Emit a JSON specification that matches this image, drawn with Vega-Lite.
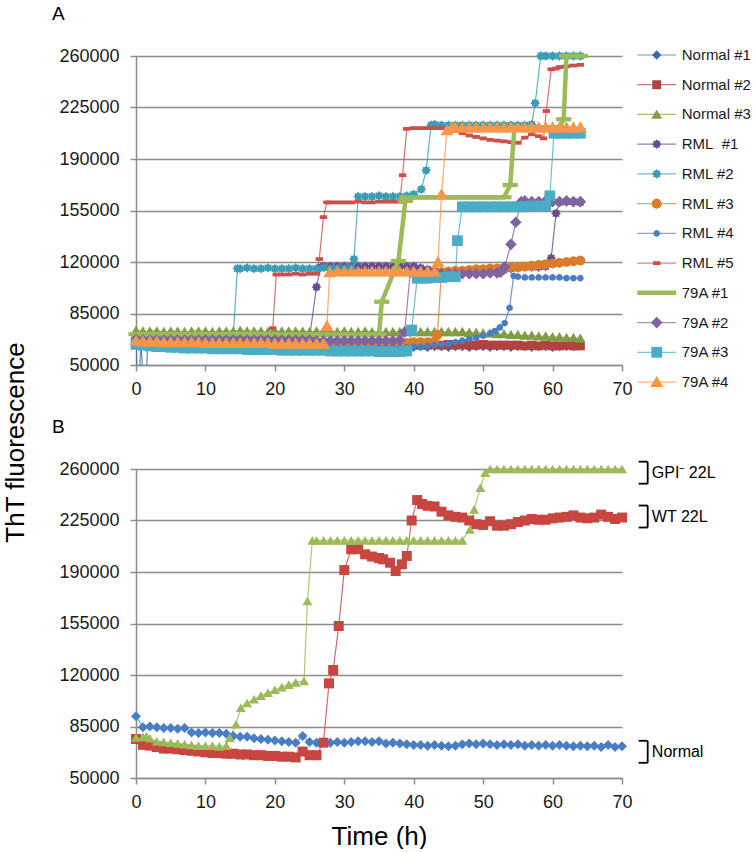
{
"$schema":"https://vega.github.io/schema/vega-lite/v6.json",
"background":"white",
"padding":{"left":2,"top":5,"right":0,"bottom":0},
"bounds":"flush",
"spacing":104,
"config":{"font":"Liberation Sans","view":{"stroke":null},
 "axis":{"domainColor":"#8c8c8c","domainWidth":1.5,"tickColor":"#8c8c8c","tickWidth":1.5,"gridColor":"#8c8c8c","gridWidth":1.5,"labelFont":"Liberation Sans","labelFontSize":18,"labelColor":"#1a1a1a","titleFont":"Liberation Sans","titleFontWeight":"normal","titleColor":"#000000"}},
"resolve":{"scale":{"x":"independent","y":"independent","color":"independent","shape":"independent","size":"independent"}},
"datasets":{
"leg":[{"s":"n1","label":"Normal #1"},{"s":"n2","label":"Normal #2"},{"s":"n3","label":"Normal #3"},{"s":"r1","label":"RML\u00a0 #1"},{"s":"r2","label":"RML #2"},{"s":"r3","label":"RML #3"},{"s":"r4","label":"RML #4"},{"s":"r5","label":"RML #5"},{"s":"x1","label":"79A #1"},{"s":"x2","label":"79A #2"},{"s":"x3","label":"79A #3"},{"s":"x4","label":"79A #4"}],
"ann":[{"label":"GPI\u207b 22L","v":257500},{"label":"WT 22L","v":227700},{"label":"Normal","v":67800}],
"a":[
{"s":"n1","t":0,"v":66500},{"s":"n1","t":0.3,"v":20000},{"s":"n1","t":0.7,"v":66000},{"s":"n1","t":1.3,"v":20000},{"s":"n1","t":1.7,"v":65500},{"s":"n1","t":2,"v":65500},{"s":"n1","t":3,"v":65000},{"s":"n1","t":4,"v":65000},{"s":"n1","t":5,"v":64500},{"s":"n1","t":6,"v":65000},{"s":"n1","t":7,"v":64500},{"s":"n1","t":8,"v":64500},{"s":"n1","t":9,"v":64500},{"s":"n1","t":10,"v":64000},{"s":"n1","t":11,"v":64500},{"s":"n1","t":12,"v":64000},{"s":"n1","t":13,"v":64000},{"s":"n1","t":14,"v":64000},{"s":"n1","t":15,"v":63500},{"s":"n1","t":16,"v":64000},{"s":"n1","t":17,"v":63500},{"s":"n1","t":18,"v":63500},{"s":"n1","t":19,"v":63500},{"s":"n1","t":20,"v":63500},{"s":"n1","t":21,"v":63000},{"s":"n1","t":22,"v":63500},{"s":"n1","t":23,"v":63000},{"s":"n1","t":24,"v":63000},{"s":"n1","t":25,"v":63000},{"s":"n1","t":26,"v":63000},{"s":"n1","t":27,"v":63000},{"s":"n1","t":28,"v":62500},{"s":"n1","t":29,"v":63000},{"s":"n1","t":30,"v":62500},{"s":"n1","t":31,"v":62500},{"s":"n1","t":32,"v":62500},{"s":"n1","t":33,"v":62500},{"s":"n1","t":34,"v":62500},{"s":"n1","t":35,"v":62500},{"s":"n1","t":36,"v":62000},{"s":"n1","t":37,"v":62500},{"s":"n1","t":38,"v":62000},{"s":"n1","t":39,"v":62500},{"s":"n1","t":40,"v":62000},{"s":"n1","t":41,"v":62500},{"s":"n1","t":42,"v":62000},{"s":"n1","t":43,"v":62500},{"s":"n1","t":44,"v":62500},{"s":"n1","t":45,"v":62000},{"s":"n1","t":46,"v":62500},{"s":"n1","t":47,"v":62500},{"s":"n1","t":48,"v":62000},{"s":"n1","t":49,"v":62500},{"s":"n1","t":50,"v":62500},{"s":"n1","t":51,"v":62000},{"s":"n1","t":52,"v":62500},{"s":"n1","t":53,"v":62500},{"s":"n1","t":54,"v":62000},{"s":"n1","t":55,"v":62500},{"s":"n1","t":56,"v":62500},{"s":"n1","t":57,"v":62000},{"s":"n1","t":58,"v":62500},{"s":"n1","t":59,"v":62500},{"s":"n1","t":60,"v":62000},{"s":"n1","t":61,"v":62500},{"s":"n1","t":62,"v":62500},{"s":"n1","t":63,"v":62500},{"s":"n1","t":64,"v":63000},
{"s":"n2","t":0,"v":66000},{"s":"n2","t":1,"v":65500},{"s":"n2","t":2,"v":65500},{"s":"n2","t":3,"v":65500},{"s":"n2","t":4,"v":65000},{"s":"n2","t":5,"v":65500},{"s":"n2","t":6,"v":65000},{"s":"n2","t":7,"v":65000},{"s":"n2","t":8,"v":65000},{"s":"n2","t":9,"v":65000},{"s":"n2","t":10,"v":64500},{"s":"n2","t":11,"v":65000},{"s":"n2","t":12,"v":64500},{"s":"n2","t":13,"v":64500},{"s":"n2","t":14,"v":64500},{"s":"n2","t":15,"v":64500},{"s":"n2","t":16,"v":64500},{"s":"n2","t":17,"v":64000},{"s":"n2","t":18,"v":64500},{"s":"n2","t":19,"v":64000},{"s":"n2","t":20,"v":64000},{"s":"n2","t":21,"v":64000},{"s":"n2","t":22,"v":64000},{"s":"n2","t":23,"v":64000},{"s":"n2","t":24,"v":64000},{"s":"n2","t":25,"v":63500},{"s":"n2","t":26,"v":64000},{"s":"n2","t":27,"v":63500},{"s":"n2","t":28,"v":63500},{"s":"n2","t":29,"v":63500},{"s":"n2","t":30,"v":63500},{"s":"n2","t":31,"v":63500},{"s":"n2","t":32,"v":63500},{"s":"n2","t":33,"v":63500},{"s":"n2","t":34,"v":63500},{"s":"n2","t":35,"v":63500},{"s":"n2","t":36,"v":63500},{"s":"n2","t":37,"v":63000},{"s":"n2","t":38,"v":63500},{"s":"n2","t":39,"v":63000},{"s":"n2","t":40,"v":63500},{"s":"n2","t":41,"v":63500},{"s":"n2","t":42,"v":63500},{"s":"n2","t":43,"v":64000},{"s":"n2","t":44,"v":63500},{"s":"n2","t":45,"v":64000},{"s":"n2","t":46,"v":63500},{"s":"n2","t":47,"v":64000},{"s":"n2","t":48,"v":63500},{"s":"n2","t":49,"v":63500},{"s":"n2","t":50,"v":64000},{"s":"n2","t":51,"v":63500},{"s":"n2","t":52,"v":63500},{"s":"n2","t":53,"v":63500},{"s":"n2","t":54,"v":63500},{"s":"n2","t":55,"v":63500},{"s":"n2","t":56,"v":63000},{"s":"n2","t":57,"v":63500},{"s":"n2","t":58,"v":63000},{"s":"n2","t":59,"v":63500},{"s":"n2","t":60,"v":63000},{"s":"n2","t":61,"v":63000},{"s":"n2","t":62,"v":63500},{"s":"n2","t":63,"v":63000},{"s":"n2","t":64,"v":63000},
{"s":"n3","t":0,"v":73500},{"s":"n3","t":1,"v":73000},{"s":"n3","t":2,"v":73000},{"s":"n3","t":3,"v":73000},{"s":"n3","t":4,"v":72500},{"s":"n3","t":5,"v":73000},{"s":"n3","t":6,"v":73000},{"s":"n3","t":7,"v":72500},{"s":"n3","t":8,"v":73000},{"s":"n3","t":9,"v":73000},{"s":"n3","t":10,"v":73000},{"s":"n3","t":11,"v":72500},{"s":"n3","t":12,"v":73000},{"s":"n3","t":13,"v":73000},{"s":"n3","t":14,"v":73000},{"s":"n3","t":15,"v":73500},{"s":"n3","t":16,"v":73000},{"s":"n3","t":17,"v":73000},{"s":"n3","t":18,"v":73000},{"s":"n3","t":19,"v":72500},{"s":"n3","t":20,"v":73000},{"s":"n3","t":21,"v":73000},{"s":"n3","t":22,"v":73000},{"s":"n3","t":23,"v":73000},{"s":"n3","t":24,"v":73000},{"s":"n3","t":25,"v":72500},{"s":"n3","t":26,"v":73000},{"s":"n3","t":27,"v":73000},{"s":"n3","t":28,"v":73000},{"s":"n3","t":29,"v":72500},{"s":"n3","t":30,"v":73000},{"s":"n3","t":31,"v":72500},{"s":"n3","t":32,"v":72500},{"s":"n3","t":33,"v":73000},{"s":"n3","t":34,"v":72500},{"s":"n3","t":35,"v":72500},{"s":"n3","t":36,"v":72500},{"s":"n3","t":37,"v":72500},{"s":"n3","t":38,"v":72500},{"s":"n3","t":39,"v":72500},{"s":"n3","t":40,"v":72500},{"s":"n3","t":41,"v":72500},{"s":"n3","t":42,"v":72500},{"s":"n3","t":43,"v":72500},{"s":"n3","t":44,"v":72500},{"s":"n3","t":45,"v":72500},{"s":"n3","t":46,"v":72500},{"s":"n3","t":47,"v":72500},{"s":"n3","t":48,"v":72000},{"s":"n3","t":49,"v":72000},{"s":"n3","t":50,"v":71500},{"s":"n3","t":51,"v":71500},{"s":"n3","t":52,"v":71000},{"s":"n3","t":53,"v":71000},{"s":"n3","t":54,"v":70500},{"s":"n3","t":55,"v":70500},{"s":"n3","t":56,"v":70000},{"s":"n3","t":57,"v":70000},{"s":"n3","t":58,"v":69500},{"s":"n3","t":59,"v":69500},{"s":"n3","t":60,"v":69000},{"s":"n3","t":61,"v":69000},{"s":"n3","t":62,"v":68500},{"s":"n3","t":63,"v":68500},{"s":"n3","t":64,"v":68000},
{"s":"r1","t":0,"v":68500},{"s":"r1","t":1,"v":68500},{"s":"r1","t":2,"v":68500},{"s":"r1","t":3,"v":68000},{"s":"r1","t":4,"v":68500},{"s":"r1","t":5,"v":68000},{"s":"r1","t":6,"v":68500},{"s":"r1","t":7,"v":68000},{"s":"r1","t":8,"v":68500},{"s":"r1","t":9,"v":68500},{"s":"r1","t":10,"v":68500},{"s":"r1","t":11,"v":68500},{"s":"r1","t":12,"v":68500},{"s":"r1","t":13,"v":68500},{"s":"r1","t":14,"v":68500},{"s":"r1","t":15,"v":68500},{"s":"r1","t":16,"v":68500},{"s":"r1","t":17,"v":68500},{"s":"r1","t":18,"v":68500},{"s":"r1","t":19,"v":68500},{"s":"r1","t":20,"v":68500},{"s":"r1","t":21,"v":68500},{"s":"r1","t":22,"v":68500},{"s":"r1","t":23,"v":68500},{"s":"r1","t":24,"v":68500},{"s":"r1","t":25,"v":69000},{"s":"r1","t":26,"v":103000},{"s":"r1","t":26.6,"v":116500},{"s":"r1","t":27,"v":117000},{"s":"r1","t":28,"v":117000},{"s":"r1","t":29,"v":117000},{"s":"r1","t":30,"v":117000},{"s":"r1","t":31,"v":117000},{"s":"r1","t":32,"v":117000},{"s":"r1","t":33,"v":117000},{"s":"r1","t":34,"v":117000},{"s":"r1","t":35,"v":117000},{"s":"r1","t":36,"v":117000},{"s":"r1","t":37,"v":117000},{"s":"r1","t":38,"v":117000},{"s":"r1","t":39,"v":117000},{"s":"r1","t":40,"v":117000},{"s":"r1","t":41,"v":116000},{"s":"r1","t":42,"v":115000},{"s":"r1","t":43,"v":114000},{"s":"r1","t":44,"v":113500},{"s":"r1","t":45,"v":113500},{"s":"r1","t":46,"v":113500},{"s":"r1","t":47,"v":113500},{"s":"r1","t":48,"v":113500},{"s":"r1","t":49,"v":113500},{"s":"r1","t":50,"v":113500},{"s":"r1","t":51,"v":113500},{"s":"r1","t":52,"v":113500},{"s":"r1","t":53,"v":114500},{"s":"r1","t":54,"v":115500},{"s":"r1","t":55,"v":116000},{"s":"r1","t":56,"v":116500},{"s":"r1","t":57,"v":116500},{"s":"r1","t":58,"v":116500},{"s":"r1","t":59,"v":117000},{"s":"r1","t":59.8,"v":122700},{"s":"r1","t":60.5,"v":153000},{"s":"r1","t":61,"v":160500},{"s":"r1","t":62,"v":161000},{"s":"r1","t":63,"v":161000},{"s":"r1","t":64,"v":160500},
{"s":"r2","t":0,"v":69500},{"s":"r2","t":1,"v":69500},{"s":"r2","t":2,"v":69000},{"s":"r2","t":3,"v":69000},{"s":"r2","t":4,"v":69000},{"s":"r2","t":5,"v":69000},{"s":"r2","t":6,"v":69000},{"s":"r2","t":7,"v":69000},{"s":"r2","t":8,"v":69000},{"s":"r2","t":9,"v":69000},{"s":"r2","t":10,"v":69000},{"s":"r2","t":11,"v":69000},{"s":"r2","t":12,"v":69000},{"s":"r2","t":13,"v":69000},{"s":"r2","t":14,"v":69000},{"s":"r2","t":14.6,"v":115500},{"s":"r2","t":15,"v":115500},{"s":"r2","t":16,"v":116000},{"s":"r2","t":17,"v":115500},{"s":"r2","t":18,"v":115500},{"s":"r2","t":19,"v":116000},{"s":"r2","t":20,"v":115500},{"s":"r2","t":21,"v":115500},{"s":"r2","t":22,"v":115500},{"s":"r2","t":23,"v":116000},{"s":"r2","t":24,"v":115500},{"s":"r2","t":25,"v":115500},{"s":"r2","t":26,"v":115500},{"s":"r2","t":27,"v":116000},{"s":"r2","t":28,"v":115500},{"s":"r2","t":29,"v":115500},{"s":"r2","t":30,"v":115500},{"s":"r2","t":31,"v":116000},{"s":"r2","t":31.4,"v":122000},{"s":"r2","t":32,"v":164500},{"s":"r2","t":33,"v":164500},{"s":"r2","t":34,"v":164500},{"s":"r2","t":35,"v":165000},{"s":"r2","t":36,"v":164500},{"s":"r2","t":37,"v":164500},{"s":"r2","t":38,"v":164500},{"s":"r2","t":39,"v":165000},{"s":"r2","t":40,"v":166000},{"s":"r2","t":41.1,"v":169400},{"s":"r2","t":41.8,"v":182300},{"s":"r2","t":42.5,"v":213000},{"s":"r2","t":43,"v":213500},{"s":"r2","t":44,"v":213000},{"s":"r2","t":45,"v":213000},{"s":"r2","t":46,"v":213000},{"s":"r2","t":47,"v":213000},{"s":"r2","t":48,"v":213000},{"s":"r2","t":49,"v":213000},{"s":"r2","t":50,"v":213000},{"s":"r2","t":51,"v":213000},{"s":"r2","t":52,"v":213000},{"s":"r2","t":53,"v":213000},{"s":"r2","t":54,"v":213000},{"s":"r2","t":55,"v":213000},{"s":"r2","t":56,"v":213000},{"s":"r2","t":57,"v":213500},{"s":"r2","t":57.5,"v":228000},{"s":"r2","t":58.3,"v":260000},{"s":"r2","t":59,"v":260000},{"s":"r2","t":60,"v":260000},{"s":"r2","t":61,"v":260000},{"s":"r2","t":62,"v":260000},{"s":"r2","t":63,"v":260000},{"s":"r2","t":64,"v":260000},
{"s":"r3","t":0,"v":66000},{"s":"r3","t":1,"v":66000},{"s":"r3","t":2,"v":65500},{"s":"r3","t":3,"v":65500},{"s":"r3","t":4,"v":65500},{"s":"r3","t":5,"v":65500},{"s":"r3","t":6,"v":65500},{"s":"r3","t":7,"v":65500},{"s":"r3","t":8,"v":65000},{"s":"r3","t":9,"v":65500},{"s":"r3","t":10,"v":65500},{"s":"r3","t":11,"v":65000},{"s":"r3","t":12,"v":65500},{"s":"r3","t":13,"v":65000},{"s":"r3","t":14,"v":65500},{"s":"r3","t":15,"v":65000},{"s":"r3","t":16,"v":65500},{"s":"r3","t":17,"v":65000},{"s":"r3","t":18,"v":65000},{"s":"r3","t":19,"v":65500},{"s":"r3","t":20,"v":65000},{"s":"r3","t":21,"v":65000},{"s":"r3","t":22,"v":65000},{"s":"r3","t":23,"v":65500},{"s":"r3","t":24,"v":65000},{"s":"r3","t":25,"v":65000},{"s":"r3","t":26,"v":65000},{"s":"r3","t":27,"v":65000},{"s":"r3","t":28,"v":65000},{"s":"r3","t":29,"v":65000},{"s":"r3","t":30,"v":65000},{"s":"r3","t":31,"v":65000},{"s":"r3","t":32,"v":65000},{"s":"r3","t":33,"v":65000},{"s":"r3","t":34,"v":65000},{"s":"r3","t":35,"v":65000},{"s":"r3","t":36,"v":65000},{"s":"r3","t":37,"v":65000},{"s":"r3","t":38,"v":65000},{"s":"r3","t":39,"v":65000},{"s":"r3","t":40,"v":65500},{"s":"r3","t":41,"v":65500},{"s":"r3","t":42,"v":65500},{"s":"r3","t":43,"v":66000},{"s":"r3","t":43.4,"v":70400},{"s":"r3","t":44,"v":113000},{"s":"r3","t":45,"v":113500},{"s":"r3","t":46,"v":114000},{"s":"r3","t":47,"v":114000},{"s":"r3","t":48,"v":114500},{"s":"r3","t":49,"v":115000},{"s":"r3","t":50,"v":115000},{"s":"r3","t":51,"v":115500},{"s":"r3","t":52,"v":115500},{"s":"r3","t":53,"v":116000},{"s":"r3","t":54,"v":116500},{"s":"r3","t":55,"v":116500},{"s":"r3","t":56,"v":117000},{"s":"r3","t":57,"v":117500},{"s":"r3","t":58,"v":118000},{"s":"r3","t":59,"v":118500},{"s":"r3","t":60,"v":119000},{"s":"r3","t":61,"v":119500},{"s":"r3","t":62,"v":120000},{"s":"r3","t":63,"v":120500},{"s":"r3","t":64,"v":121000},
{"s":"r4","t":0,"v":63000},{"s":"r4","t":1,"v":63000},{"s":"r4","t":2,"v":62500},{"s":"r4","t":3,"v":62500},{"s":"r4","t":4,"v":62500},{"s":"r4","t":5,"v":62500},{"s":"r4","t":6,"v":62500},{"s":"r4","t":7,"v":62000},{"s":"r4","t":8,"v":62500},{"s":"r4","t":9,"v":62000},{"s":"r4","t":10,"v":62000},{"s":"r4","t":11,"v":62000},{"s":"r4","t":12,"v":62000},{"s":"r4","t":13,"v":62000},{"s":"r4","t":14,"v":62000},{"s":"r4","t":15,"v":62000},{"s":"r4","t":16,"v":61500},{"s":"r4","t":17,"v":62000},{"s":"r4","t":18,"v":61500},{"s":"r4","t":19,"v":61500},{"s":"r4","t":20,"v":61500},{"s":"r4","t":21,"v":61500},{"s":"r4","t":22,"v":61500},{"s":"r4","t":23,"v":61500},{"s":"r4","t":24,"v":61500},{"s":"r4","t":25,"v":61500},{"s":"r4","t":26,"v":61500},{"s":"r4","t":27,"v":61500},{"s":"r4","t":28,"v":61500},{"s":"r4","t":29,"v":61500},{"s":"r4","t":30,"v":61500},{"s":"r4","t":31,"v":61500},{"s":"r4","t":32,"v":61500},{"s":"r4","t":33,"v":61500},{"s":"r4","t":34,"v":61500},{"s":"r4","t":35,"v":61500},{"s":"r4","t":36,"v":61500},{"s":"r4","t":37,"v":62000},{"s":"r4","t":38,"v":62000},{"s":"r4","t":39,"v":62000},{"s":"r4","t":40,"v":62500},{"s":"r4","t":41,"v":62500},{"s":"r4","t":42,"v":63000},{"s":"r4","t":43,"v":63500},{"s":"r4","t":44,"v":64000},{"s":"r4","t":45,"v":64500},{"s":"r4","t":46,"v":65500},{"s":"r4","t":47,"v":66500},{"s":"r4","t":48,"v":67500},{"s":"r4","t":49,"v":68500},{"s":"r4","t":50,"v":70000},{"s":"r4","t":51,"v":71500},{"s":"r4","t":51.7,"v":73100},{"s":"r4","t":52.4,"v":75500},{"s":"r4","t":53.1,"v":78500},{"s":"r4","t":53.8,"v":88800},{"s":"r4","t":54.4,"v":110500},{"s":"r4","t":55,"v":110000},{"s":"r4","t":56,"v":109500},{"s":"r4","t":57,"v":109500},{"s":"r4","t":58,"v":109500},{"s":"r4","t":59,"v":109500},{"s":"r4","t":60,"v":109500},{"s":"r4","t":61,"v":109500},{"s":"r4","t":62,"v":109000},{"s":"r4","t":63,"v":109000},{"s":"r4","t":64,"v":109000},
{"s":"r5","t":0,"v":66000},{"s":"r5","t":1,"v":66000},{"s":"r5","t":2,"v":65500},{"s":"r5","t":3,"v":65500},{"s":"r5","t":4,"v":65500},{"s":"r5","t":5,"v":65500},{"s":"r5","t":6,"v":65500},{"s":"r5","t":7,"v":65500},{"s":"r5","t":8,"v":65500},{"s":"r5","t":9,"v":65500},{"s":"r5","t":10,"v":65500},{"s":"r5","t":11,"v":65000},{"s":"r5","t":12,"v":65500},{"s":"r5","t":13,"v":65000},{"s":"r5","t":14,"v":65000},{"s":"r5","t":15,"v":65000},{"s":"r5","t":16,"v":65000},{"s":"r5","t":17,"v":65000},{"s":"r5","t":18,"v":65000},{"s":"r5","t":19,"v":65000},{"s":"r5","t":19.7,"v":75000},{"s":"r5","t":20.2,"v":111500},{"s":"r5","t":21,"v":111500},{"s":"r5","t":22,"v":111500},{"s":"r5","t":23,"v":112000},{"s":"r5","t":24,"v":111500},{"s":"r5","t":25,"v":112000},{"s":"r5","t":26,"v":112000},{"s":"r5","t":26.4,"v":122000},{"s":"r5","t":27,"v":150500},{"s":"r5","t":27.5,"v":160500},{"s":"r5","t":28,"v":160500},{"s":"r5","t":29,"v":160500},{"s":"r5","t":30,"v":160500},{"s":"r5","t":31,"v":160500},{"s":"r5","t":32,"v":161000},{"s":"r5","t":33,"v":160500},{"s":"r5","t":34,"v":160500},{"s":"r5","t":35,"v":161000},{"s":"r5","t":36,"v":161000},{"s":"r5","t":37,"v":161000},{"s":"r5","t":38,"v":161000},{"s":"r5","t":38.4,"v":179000},{"s":"r5","t":39,"v":210500},{"s":"r5","t":40,"v":211000},{"s":"r5","t":41,"v":211000},{"s":"r5","t":42,"v":211000},{"s":"r5","t":43,"v":211000},{"s":"r5","t":44,"v":211000},{"s":"r5","t":45,"v":210000},{"s":"r5","t":46,"v":209000},{"s":"r5","t":47,"v":207500},{"s":"r5","t":48,"v":206000},{"s":"r5","t":49,"v":205000},{"s":"r5","t":50,"v":204000},{"s":"r5","t":51,"v":203000},{"s":"r5","t":52,"v":202500},{"s":"r5","t":53,"v":202000},{"s":"r5","t":54,"v":201500},{"s":"r5","t":55,"v":201000},{"s":"r5","t":56,"v":204500},{"s":"r5","t":57,"v":206800},{"s":"r5","t":58,"v":205500},{"s":"r5","t":58.7,"v":204000},{"s":"r5","t":59.1,"v":222600},{"s":"r5","t":59.8,"v":251000},{"s":"r5","t":60.5,"v":251500},{"s":"r5","t":61,"v":252500},{"s":"r5","t":62,"v":253000},{"s":"r5","t":63,"v":253500},{"s":"r5","t":64,"v":254000},
{"s":"x1","t":0,"v":71000},{"s":"x1","t":1,"v":71000},{"s":"x1","t":2,"v":71000},{"s":"x1","t":3,"v":71000},{"s":"x1","t":4,"v":71000},{"s":"x1","t":5,"v":71000},{"s":"x1","t":6,"v":71000},{"s":"x1","t":7,"v":71000},{"s":"x1","t":8,"v":71000},{"s":"x1","t":9,"v":71000},{"s":"x1","t":10,"v":71000},{"s":"x1","t":11,"v":71000},{"s":"x1","t":12,"v":71000},{"s":"x1","t":13,"v":71000},{"s":"x1","t":14,"v":71000},{"s":"x1","t":15,"v":71000},{"s":"x1","t":16,"v":71000},{"s":"x1","t":17,"v":71000},{"s":"x1","t":18,"v":71000},{"s":"x1","t":19,"v":71000},{"s":"x1","t":20,"v":70500},{"s":"x1","t":21,"v":70500},{"s":"x1","t":22,"v":70500},{"s":"x1","t":23,"v":70500},{"s":"x1","t":24,"v":70500},{"s":"x1","t":25,"v":70500},{"s":"x1","t":26,"v":70500},{"s":"x1","t":27,"v":70500},{"s":"x1","t":28,"v":70500},{"s":"x1","t":29,"v":70500},{"s":"x1","t":30,"v":70500},{"s":"x1","t":31,"v":70500},{"s":"x1","t":32,"v":70500},{"s":"x1","t":33,"v":70500},{"s":"x1","t":34,"v":70500},{"s":"x1","t":35,"v":70500},{"s":"x1","t":35.4,"v":93000},{"s":"x1","t":37.8,"v":120700},{"s":"x1","t":38.8,"v":161500},{"s":"x1","t":39,"v":164000},{"s":"x1","t":40,"v":164000},{"s":"x1","t":41,"v":164000},{"s":"x1","t":42,"v":164000},{"s":"x1","t":43,"v":164000},{"s":"x1","t":44,"v":164000},{"s":"x1","t":45,"v":164000},{"s":"x1","t":46,"v":164000},{"s":"x1","t":47,"v":164000},{"s":"x1","t":48,"v":164000},{"s":"x1","t":49,"v":164000},{"s":"x1","t":50,"v":164000},{"s":"x1","t":51,"v":164000},{"s":"x1","t":52,"v":164000},{"s":"x1","t":53,"v":164000},{"s":"x1","t":53.9,"v":172300},{"s":"x1","t":54.5,"v":211000},{"s":"x1","t":55,"v":211500},{"s":"x1","t":56,"v":211500},{"s":"x1","t":57,"v":211500},{"s":"x1","t":58,"v":211500},{"s":"x1","t":59,"v":211500},{"s":"x1","t":60,"v":211500},{"s":"x1","t":61,"v":211500},{"s":"x1","t":61.6,"v":217000},{"s":"x1","t":62,"v":260000},{"s":"x1","t":63,"v":260000},{"s":"x1","t":64,"v":260000},
{"s":"x2","t":0,"v":67500},{"s":"x2","t":1,"v":67000},{"s":"x2","t":2,"v":67000},{"s":"x2","t":3,"v":67000},{"s":"x2","t":4,"v":67000},{"s":"x2","t":5,"v":67000},{"s":"x2","t":6,"v":67000},{"s":"x2","t":7,"v":67000},{"s":"x2","t":8,"v":67000},{"s":"x2","t":9,"v":67000},{"s":"x2","t":10,"v":67000},{"s":"x2","t":11,"v":67000},{"s":"x2","t":12,"v":67000},{"s":"x2","t":13,"v":67000},{"s":"x2","t":14,"v":67000},{"s":"x2","t":15,"v":67000},{"s":"x2","t":16,"v":67000},{"s":"x2","t":17,"v":67000},{"s":"x2","t":18,"v":67000},{"s":"x2","t":19,"v":67000},{"s":"x2","t":20,"v":67000},{"s":"x2","t":21,"v":67000},{"s":"x2","t":22,"v":67000},{"s":"x2","t":23,"v":67000},{"s":"x2","t":24,"v":67000},{"s":"x2","t":25,"v":67000},{"s":"x2","t":26,"v":66500},{"s":"x2","t":27,"v":66500},{"s":"x2","t":28,"v":66500},{"s":"x2","t":29,"v":66500},{"s":"x2","t":30,"v":66500},{"s":"x2","t":31,"v":66500},{"s":"x2","t":32,"v":66500},{"s":"x2","t":33,"v":66500},{"s":"x2","t":34,"v":66500},{"s":"x2","t":35,"v":66500},{"s":"x2","t":36,"v":66500},{"s":"x2","t":37,"v":66500},{"s":"x2","t":38,"v":67000},{"s":"x2","t":38.7,"v":72400},{"s":"x2","t":39.5,"v":113000},{"s":"x2","t":40,"v":112500},{"s":"x2","t":41,"v":112500},{"s":"x2","t":42,"v":112500},{"s":"x2","t":43,"v":112000},{"s":"x2","t":44,"v":112000},{"s":"x2","t":45,"v":112000},{"s":"x2","t":46,"v":112000},{"s":"x2","t":47,"v":112000},{"s":"x2","t":48,"v":112000},{"s":"x2","t":49,"v":112000},{"s":"x2","t":50,"v":112000},{"s":"x2","t":51,"v":112500},{"s":"x2","t":52,"v":112500},{"s":"x2","t":52.5,"v":113000},{"s":"x2","t":53.1,"v":116600},{"s":"x2","t":54,"v":132000},{"s":"x2","t":54.7,"v":147000},{"s":"x2","t":55.5,"v":161000},{"s":"x2","t":56,"v":161500},{"s":"x2","t":57,"v":161000},{"s":"x2","t":58,"v":161000},{"s":"x2","t":59,"v":161500},{"s":"x2","t":60,"v":161000},{"s":"x2","t":61,"v":161000},{"s":"x2","t":62,"v":161500},{"s":"x2","t":63,"v":161000},{"s":"x2","t":64,"v":161000},
{"s":"x3","t":0,"v":64000},{"s":"x3","t":1,"v":63500},{"s":"x3","t":2,"v":63000},{"s":"x3","t":3,"v":62500},{"s":"x3","t":4,"v":62500},{"s":"x3","t":5,"v":62000},{"s":"x3","t":6,"v":62000},{"s":"x3","t":7,"v":61500},{"s":"x3","t":8,"v":61500},{"s":"x3","t":9,"v":61500},{"s":"x3","t":10,"v":61500},{"s":"x3","t":11,"v":61000},{"s":"x3","t":12,"v":61000},{"s":"x3","t":13,"v":61000},{"s":"x3","t":14,"v":61000},{"s":"x3","t":15,"v":61000},{"s":"x3","t":16,"v":60500},{"s":"x3","t":17,"v":60500},{"s":"x3","t":18,"v":60500},{"s":"x3","t":19,"v":60500},{"s":"x3","t":20,"v":60500},{"s":"x3","t":21,"v":60000},{"s":"x3","t":22,"v":60000},{"s":"x3","t":23,"v":60000},{"s":"x3","t":24,"v":60000},{"s":"x3","t":25,"v":60000},{"s":"x3","t":26,"v":60000},{"s":"x3","t":27,"v":60000},{"s":"x3","t":28,"v":59500},{"s":"x3","t":29,"v":59500},{"s":"x3","t":30,"v":59500},{"s":"x3","t":31,"v":59500},{"s":"x3","t":32,"v":59500},{"s":"x3","t":33,"v":59500},{"s":"x3","t":34,"v":59500},{"s":"x3","t":35,"v":59000},{"s":"x3","t":36,"v":59000},{"s":"x3","t":37,"v":59000},{"s":"x3","t":38,"v":59000},{"s":"x3","t":39,"v":59500},{"s":"x3","t":39.7,"v":73800},{"s":"x3","t":40.5,"v":109000},{"s":"x3","t":41,"v":109000},{"s":"x3","t":42,"v":109000},{"s":"x3","t":43,"v":109500},{"s":"x3","t":44,"v":109500},{"s":"x3","t":45,"v":110000},{"s":"x3","t":46,"v":110000},{"s":"x3","t":46.3,"v":134500},{"s":"x3","t":47,"v":157500},{"s":"x3","t":48,"v":157500},{"s":"x3","t":49,"v":157500},{"s":"x3","t":50,"v":157500},{"s":"x3","t":51,"v":157500},{"s":"x3","t":52,"v":157500},{"s":"x3","t":53,"v":157500},{"s":"x3","t":54,"v":157500},{"s":"x3","t":55,"v":157500},{"s":"x3","t":56,"v":157500},{"s":"x3","t":57,"v":158000},{"s":"x3","t":58,"v":158000},{"s":"x3","t":59,"v":158000},{"s":"x3","t":59.6,"v":165000},{"s":"x3","t":60.2,"v":207500},{"s":"x3","t":61,"v":207500},{"s":"x3","t":62,"v":207500},{"s":"x3","t":63,"v":207500},{"s":"x3","t":64,"v":207500},
{"s":"x4","t":0,"v":66500},{"s":"x4","t":1,"v":66000},{"s":"x4","t":2,"v":66000},{"s":"x4","t":3,"v":66000},{"s":"x4","t":4,"v":65500},{"s":"x4","t":5,"v":65500},{"s":"x4","t":6,"v":65500},{"s":"x4","t":7,"v":65500},{"s":"x4","t":8,"v":65500},{"s":"x4","t":9,"v":65500},{"s":"x4","t":10,"v":65000},{"s":"x4","t":11,"v":65000},{"s":"x4","t":12,"v":65000},{"s":"x4","t":13,"v":65000},{"s":"x4","t":14,"v":65000},{"s":"x4","t":15,"v":65000},{"s":"x4","t":16,"v":65000},{"s":"x4","t":17,"v":65000},{"s":"x4","t":18,"v":65000},{"s":"x4","t":19,"v":65000},{"s":"x4","t":20,"v":64500},{"s":"x4","t":21,"v":64500},{"s":"x4","t":22,"v":64500},{"s":"x4","t":23,"v":64500},{"s":"x4","t":24,"v":64500},{"s":"x4","t":25,"v":64500},{"s":"x4","t":26,"v":64500},{"s":"x4","t":27,"v":64500},{"s":"x4","t":27.5,"v":76500},{"s":"x4","t":27.9,"v":113000},{"s":"x4","t":29,"v":113500},{"s":"x4","t":30,"v":113500},{"s":"x4","t":31,"v":113500},{"s":"x4","t":32,"v":113500},{"s":"x4","t":33,"v":113500},{"s":"x4","t":34,"v":113500},{"s":"x4","t":35,"v":113500},{"s":"x4","t":36,"v":113500},{"s":"x4","t":37,"v":113500},{"s":"x4","t":38,"v":113500},{"s":"x4","t":39,"v":113500},{"s":"x4","t":40,"v":113500},{"s":"x4","t":41,"v":113500},{"s":"x4","t":42,"v":113500},{"s":"x4","t":43,"v":113500},{"s":"x4","t":43.5,"v":120000},{"s":"x4","t":44,"v":166000},{"s":"x4","t":44.8,"v":209500},{"s":"x4","t":45.5,"v":211500},{"s":"x4","t":46,"v":211500},{"s":"x4","t":47,"v":211500},{"s":"x4","t":48,"v":211500},{"s":"x4","t":49,"v":211500},{"s":"x4","t":50,"v":211500},{"s":"x4","t":51,"v":211500},{"s":"x4","t":52,"v":211500},{"s":"x4","t":53,"v":211500},{"s":"x4","t":54,"v":211500},{"s":"x4","t":55,"v":211500},{"s":"x4","t":56,"v":211500},{"s":"x4","t":57,"v":211500},{"s":"x4","t":58,"v":211500},{"s":"x4","t":59,"v":211500},{"s":"x4","t":60,"v":211500},{"s":"x4","t":61,"v":211500},{"s":"x4","t":62,"v":211500},{"s":"x4","t":63,"v":211500},{"s":"x4","t":64,"v":211500}
],
"b":[
{"s":"bn","t":0,"v":92000},{"s":"bn","t":1,"v":84500},{"s":"bn","t":2,"v":85000},{"s":"bn","t":3,"v":84500},{"s":"bn","t":4,"v":84000},{"s":"bn","t":5,"v":84000},{"s":"bn","t":6,"v":83500},{"s":"bn","t":7,"v":84000},{"s":"bn","t":8,"v":81000},{"s":"bn","t":9,"v":80500},{"s":"bn","t":10,"v":81000},{"s":"bn","t":11,"v":80500},{"s":"bn","t":12,"v":80500},{"s":"bn","t":13,"v":80000},{"s":"bn","t":14,"v":78500},{"s":"bn","t":15,"v":78000},{"s":"bn","t":16,"v":78000},{"s":"bn","t":17,"v":77000},{"s":"bn","t":18,"v":76500},{"s":"bn","t":19,"v":76000},{"s":"bn","t":20,"v":75500},{"s":"bn","t":21,"v":75000},{"s":"bn","t":22,"v":74500},{"s":"bn","t":23,"v":74000},{"s":"bn","t":24,"v":78500},{"s":"bn","t":25,"v":74500},{"s":"bn","t":26,"v":74000},{"s":"bn","t":27,"v":74500},{"s":"bn","t":28,"v":74000},{"s":"bn","t":29,"v":74500},{"s":"bn","t":30,"v":74000},{"s":"bn","t":31,"v":74500},{"s":"bn","t":32,"v":75000},{"s":"bn","t":33,"v":75000},{"s":"bn","t":34,"v":74500},{"s":"bn","t":35,"v":75000},{"s":"bn","t":36,"v":73500},{"s":"bn","t":37,"v":74000},{"s":"bn","t":38,"v":73500},{"s":"bn","t":39,"v":73000},{"s":"bn","t":40,"v":72500},{"s":"bn","t":41,"v":72500},{"s":"bn","t":42,"v":72000},{"s":"bn","t":43,"v":72500},{"s":"bn","t":44,"v":72000},{"s":"bn","t":45,"v":71500},{"s":"bn","t":46,"v":72000},{"s":"bn","t":47,"v":73000},{"s":"bn","t":48,"v":73500},{"s":"bn","t":49,"v":73000},{"s":"bn","t":50,"v":73500},{"s":"bn","t":51,"v":73000},{"s":"bn","t":52,"v":72500},{"s":"bn","t":53,"v":73000},{"s":"bn","t":54,"v":72500},{"s":"bn","t":55,"v":73000},{"s":"bn","t":56,"v":72000},{"s":"bn","t":57,"v":72500},{"s":"bn","t":58,"v":72000},{"s":"bn","t":59,"v":72500},{"s":"bn","t":60,"v":72000},{"s":"bn","t":61,"v":72500},{"s":"bn","t":62,"v":72000},{"s":"bn","t":63,"v":71500},{"s":"bn","t":64,"v":72000},{"s":"bn","t":65,"v":71500},{"s":"bn","t":66,"v":72000},{"s":"bn","t":67,"v":71000},{"s":"bn","t":68,"v":72500},{"s":"bn","t":69,"v":71000},{"s":"bn","t":70,"v":71500},
{"s":"bw","t":0,"v":76500},{"s":"bw","t":1,"v":72500},{"s":"bw","t":2,"v":72000},{"s":"bw","t":3,"v":71000},{"s":"bw","t":4,"v":70000},{"s":"bw","t":5,"v":70000},{"s":"bw","t":6,"v":69500},{"s":"bw","t":7,"v":69000},{"s":"bw","t":8,"v":68500},{"s":"bw","t":9,"v":68000},{"s":"bw","t":10,"v":67500},{"s":"bw","t":11,"v":67000},{"s":"bw","t":12,"v":67000},{"s":"bw","t":13,"v":66500},{"s":"bw","t":14,"v":66500},{"s":"bw","t":15,"v":66000},{"s":"bw","t":16,"v":66000},{"s":"bw","t":17,"v":65500},{"s":"bw","t":18,"v":65500},{"s":"bw","t":19,"v":65000},{"s":"bw","t":20,"v":65000},{"s":"bw","t":21,"v":64500},{"s":"bw","t":22,"v":64500},{"s":"bw","t":23,"v":64000},{"s":"bw","t":24,"v":68000},{"s":"bw","t":25,"v":65500},{"s":"bw","t":26,"v":65500},{"s":"bw","t":27,"v":74000},{"s":"bw","t":27.8,"v":114300},{"s":"bw","t":28.4,"v":123400},{"s":"bw","t":29.2,"v":153300},{"s":"bw","t":30,"v":191300},{"s":"bw","t":31,"v":205400},{"s":"bw","t":32,"v":205500},{"s":"bw","t":33,"v":202000},{"s":"bw","t":34,"v":200500},{"s":"bw","t":35,"v":199500},{"s":"bw","t":35.6,"v":198600},{"s":"bw","t":36.6,"v":196300},{"s":"bw","t":37.4,"v":190700},{"s":"bw","t":38.3,"v":195200},{"s":"bw","t":39,"v":200900},{"s":"bw","t":39.7,"v":225000},{"s":"bw","t":40.5,"v":238900},{"s":"bw","t":41.2,"v":236200},{"s":"bw","t":42,"v":235000},{"s":"bw","t":43,"v":234500},{"s":"bw","t":44,"v":231000},{"s":"bw","t":45,"v":228500},{"s":"bw","t":46,"v":227500},{"s":"bw","t":47,"v":227000},{"s":"bw","t":48,"v":225000},{"s":"bw","t":49,"v":222500},{"s":"bw","t":50,"v":222000},{"s":"bw","t":51,"v":224500},{"s":"bw","t":52,"v":221500},{"s":"bw","t":53,"v":221500},{"s":"bw","t":54,"v":222500},{"s":"bw","t":55,"v":224000},{"s":"bw","t":56,"v":225000},{"s":"bw","t":57,"v":226000},{"s":"bw","t":58,"v":225500},{"s":"bw","t":59,"v":225500},{"s":"bw","t":60,"v":226500},{"s":"bw","t":61,"v":227000},{"s":"bw","t":62,"v":227500},{"s":"bw","t":63,"v":228500},{"s":"bw","t":64,"v":227000},{"s":"bw","t":65,"v":226500},{"s":"bw","t":66,"v":227000},{"s":"bw","t":67,"v":229000},{"s":"bw","t":68,"v":227500},{"s":"bw","t":69,"v":226000},{"s":"bw","t":70,"v":227000},
{"s":"bg","t":0,"v":77500},{"s":"bg","t":1,"v":78000},{"s":"bg","t":1.5,"v":78500},{"s":"bg","t":2,"v":77000},{"s":"bg","t":3,"v":75000},{"s":"bg","t":4,"v":74500},{"s":"bg","t":5,"v":74000},{"s":"bg","t":6,"v":73500},{"s":"bg","t":7,"v":73000},{"s":"bg","t":8,"v":72500},{"s":"bg","t":9,"v":72000},{"s":"bg","t":10,"v":72000},{"s":"bg","t":11,"v":72000},{"s":"bg","t":12,"v":71500},{"s":"bg","t":13,"v":72000},{"s":"bg","t":13.5,"v":77400},{"s":"bg","t":14.4,"v":86500},{"s":"bg","t":15.1,"v":97800},{"s":"bg","t":16,"v":101000},{"s":"bg","t":17,"v":103500},{"s":"bg","t":18,"v":106000},{"s":"bg","t":19,"v":108000},{"s":"bg","t":20,"v":110000},{"s":"bg","t":21,"v":111800},{"s":"bg","t":22,"v":113500},{"s":"bg","t":23,"v":115000},{"s":"bg","t":24.2,"v":116000},{"s":"bg","t":24.7,"v":170300},{"s":"bg","t":25.4,"v":211500},{"s":"bg","t":26,"v":211500},{"s":"bg","t":27,"v":211500},{"s":"bg","t":28,"v":211500},{"s":"bg","t":29,"v":211500},{"s":"bg","t":30,"v":211500},{"s":"bg","t":31,"v":211500},{"s":"bg","t":32,"v":211500},{"s":"bg","t":33,"v":211500},{"s":"bg","t":34,"v":211500},{"s":"bg","t":35,"v":211500},{"s":"bg","t":36,"v":211500},{"s":"bg","t":37,"v":211500},{"s":"bg","t":38,"v":211500},{"s":"bg","t":39,"v":211500},{"s":"bg","t":40,"v":211500},{"s":"bg","t":41,"v":211500},{"s":"bg","t":42,"v":211500},{"s":"bg","t":43,"v":211500},{"s":"bg","t":44,"v":211500},{"s":"bg","t":45,"v":211500},{"s":"bg","t":46,"v":211500},{"s":"bg","t":47,"v":211500},{"s":"bg","t":48.1,"v":219000},{"s":"bg","t":48.7,"v":232600},{"s":"bg","t":49.6,"v":247300},{"s":"bg","t":50.3,"v":257500},{"s":"bg","t":51,"v":260000},{"s":"bg","t":52,"v":260000},{"s":"bg","t":53,"v":260000},{"s":"bg","t":54,"v":260000},{"s":"bg","t":55,"v":260000},{"s":"bg","t":56,"v":260000},{"s":"bg","t":57,"v":260000},{"s":"bg","t":58,"v":260000},{"s":"bg","t":59,"v":260000},{"s":"bg","t":60,"v":260000},{"s":"bg","t":61,"v":260000},{"s":"bg","t":62,"v":260000},{"s":"bg","t":63,"v":260000},{"s":"bg","t":64,"v":260000},{"s":"bg","t":65,"v":260000},{"s":"bg","t":66,"v":260000},{"s":"bg","t":67,"v":260000},{"s":"bg","t":68,"v":260000},{"s":"bg","t":69,"v":260000},{"s":"bg","t":70,"v":260000}
]
},
"vconcat":[
{
 "width":486,"height":309,
 "title":{"text":"A","anchor":"start","frame":"group","dx":-84,"offset":8,"fontSize":19,"fontWeight":"normal","font":"Liberation Sans","color":"#000000","baseline":"alphabetic"},
 "resolve":{"scale":{"y":"independent"}},
 "layer":[
  {"layer":[
   {"data":{"name":"a"},"transform":[{"filter":"datum.s != 'x1'"}],
    "mark":{"type":"line","strokeWidth":1.2,"opacity":0.8,"clip":true},
    "encoding":{
     "x":{"field":"t","type":"quantitative","scale":{"domain":[0,70],"nice":false,"zero":false},"axis":{"values":[0,10,20,30,40,50,60,70],"title":null,"grid":false,"tickSize":6,"labelPadding":9,"labelFlush":false}},
     "y":{"field":"v","type":"quantitative","scale":{"domain":[50000,260000],"nice":false,"zero":false},"axis":{"values":[50000,85000,120000,155000,190000,225000,260000],"format":"d","title":"ThT fluorescence","titleFontSize":26,"titleAngle":-90,"titleX":-113,"titleY":386,"titleAlign":"center","titleBaseline":"alphabetic","tickSize":6,"labelPadding":11,"grid":true}},
     "color":{"field":"s","type":"nominal","scale":{"domain":["n1","n2","n3","r1","r2","r3","r4","r5","x1","x2","x3","x4"],"range":["#3F68AA","#B0433F","#7F9D45","#674B92","#3A9DB6","#DB7B2C","#4A7DC4","#CB504C","#9BBB59","#8064A2","#4BACC6","#F79646"]},"legend":null}}},
   {"data":{"name":"a"},"transform":[{"filter":"datum.v >= 50000 && substring(datum.s,0,1) != 'x'"}],
    "mark":{"type":"point","filled":true,"opacity":1,"size":500},
    "encoding":{
     "x":{"field":"t","type":"quantitative"},
     "y":{"field":"v","type":"quantitative"},
     "color":{"field":"s","type":"nominal","legend":null},
     "shape":{"field":"s","type":"nominal","scale":{"domain":["n1","n2","n3","r1","r2","r3","r4","r5","x1","x2","x3","x4"],"range":["M-0.42,0L0,-0.42L0.42,0L0,0.42Z","M-0.4,-0.4L0.4,-0.4L0.4,0.4L-0.4,0.4Z","M0,-0.45L0.48,0.38L-0.48,0.38Z","M0,-0.44L0.12,-0.28L0.31,-0.31L0.28,-0.12L0.44,0L0.28,0.12L0.31,0.31L0.12,0.28L0,0.44L-0.12,0.28L-0.31,0.31L-0.28,0.12L-0.44,0L-0.28,-0.12L-0.31,-0.31L-0.12,-0.28Z","M0,-0.44L0.12,-0.28L0.31,-0.31L0.28,-0.12L0.44,0L0.28,0.12L0.31,0.31L0.12,0.28L0,0.44L-0.12,0.28L-0.31,0.31L-0.28,0.12L-0.44,0L-0.28,-0.12L-0.31,-0.31L-0.12,-0.28Z","M0.45,0L0.39,0.225L0.225,0.39L0,0.45L-0.225,0.39L-0.39,0.225L-0.45,0L-0.39,-0.225L-0.225,-0.39L0,-0.45L0.225,-0.39L0.39,-0.225Z","M0.3,0L0.26,0.15L0.15,0.26L0,0.3L-0.15,0.26L-0.26,0.15L-0.3,0L-0.26,-0.15L-0.15,-0.26L0,-0.3L0.15,-0.26L0.26,-0.15Z","M-0.33,-0.17L0.33,-0.17L0.33,0.17L-0.33,0.17Z","M-0.68,-0.19L0.68,-0.19L0.68,0.19L-0.68,0.19Z","M-0.52,0L0,-0.52L0.52,0L0,0.52Z","M-0.48,-0.48L0.48,-0.48L0.48,0.48L-0.48,0.48Z","M0,-0.55L0.58,0.45L-0.58,0.45Z"]},"legend":null}}},
   {"data":{"name":"a"},"transform":[{"filter":"datum.s == 'x1'"}],
    "mark":{"type":"line","strokeWidth":4.5},
    "encoding":{"x":{"field":"t","type":"quantitative"},"y":{"field":"v","type":"quantitative"},"color":{"field":"s","type":"nominal","legend":null}}},
   {"data":{"name":"a"},"transform":[{"filter":"substring(datum.s,0,1) == 'x'"}],
    "mark":{"type":"point","filled":true,"opacity":1,"size":500},
    "encoding":{
     "x":{"field":"t","type":"quantitative"},
     "y":{"field":"v","type":"quantitative"},
     "color":{"field":"s","type":"nominal","legend":null},
     "shape":{"field":"s","type":"nominal","legend":null}}}
  ]},
  {"layer":[
   {"data":{"name":"leg"},"transform":[{"window":[{"op":"row_number","as":"k"}]},{"filter":"datum.s != 'x1'"}],
    "mark":{"type":"rule","strokeWidth":1.2,"opacity":0.7},
    "encoding":{"x":{"datum":72.2},"x2":{"datum":77.8},
     "y":{"field":"k","type":"quantitative","scale":{"domain":[1.034,11.427],"reverse":true,"nice":false,"zero":false},"axis":null},
     "color":{"field":"s","type":"nominal","legend":null}}},
   {"data":{"name":"leg"},"transform":[{"window":[{"op":"row_number","as":"k"}]},{"filter":"datum.s == 'x1'"}],
    "mark":{"type":"rule","strokeWidth":4.5},
    "encoding":{"x":{"datum":72.2},"x2":{"datum":77.8},
     "y":{"field":"k","type":"quantitative","axis":null},
     "color":{"field":"s","type":"nominal","legend":null}}},
   {"data":{"name":"leg"},"transform":[{"window":[{"op":"row_number","as":"k"}]},{"filter":"datum.s != 'x1'"}],
    "mark":{"type":"point","filled":true,"opacity":1,"size":500},
    "encoding":{"x":{"datum":75.0},
     "y":{"field":"k","type":"quantitative","axis":null},
     "color":{"field":"s","type":"nominal","legend":null},
     "shape":{"field":"s","type":"nominal","legend":null}}},
   {"data":{"name":"leg"},"transform":[{"window":[{"op":"row_number","as":"k"}]}],
    "mark":{"type":"text","align":"left","baseline":"middle","fontSize":15,"color":"#1a1a1a","font":"Liberation Sans"},
    "encoding":{"x":{"datum":78.6},
     "y":{"field":"k","type":"quantitative","axis":null},
     "text":{"field":"label"}}}
  ]}
 ]
},
{
 "width":486,"height":309,
 "title":{"text":"B","anchor":"start","frame":"group","dx":-84,"offset":8,"fontSize":19,"fontWeight":"normal","font":"Liberation Sans","color":"#000000","baseline":"alphabetic"},
 "layer":[
  {"data":{"name":"b"},
   "mark":{"type":"line","strokeWidth":1.2,"opacity":0.8},
   "encoding":{
    "x":{"field":"t","type":"quantitative","scale":{"domain":[0,70],"nice":false,"zero":false},"axis":{"values":[0,10,20,30,40,50,60,70],"title":"Time (h)","titleFontSize":26,"titleY":66,"titleBaseline":"alphabetic","grid":false,"tickSize":6,"labelPadding":9,"labelFlush":false}},
    "y":{"field":"v","type":"quantitative","scale":{"domain":[50000,260000],"nice":false,"zero":false},"axis":{"values":[50000,85000,120000,155000,190000,225000,260000],"format":"d","title":null,"tickSize":6,"labelPadding":11,"grid":true}},
    "color":{"field":"s","type":"nominal","scale":{"domain":["bn","bw","bg"],"range":["#4A7EC4","#C8463F","#9BBB59"]},"legend":null}}},
  {"data":{"name":"b"},
   "mark":{"type":"point","filled":true,"opacity":1,"size":100},
   "encoding":{
    "x":{"field":"t","type":"quantitative"},
    "y":{"field":"v","type":"quantitative"},
    "color":{"field":"s","type":"nominal","legend":null},
    "shape":{"field":"s","type":"nominal","scale":{"domain":["bn","bw","bg"],"range":["diamond","square","triangle-up"]},"legend":null}}},
  {"data":{"name":"ann"},
   "mark":{"type":"rule","color":"#000000","strokeWidth":1.8,"yOffset":-11,"y2Offset":11},
   "encoding":{"x":{"datum":73.7},"y":{"field":"v","type":"quantitative"},"y2":{"field":"v"}}},
  {"data":{"name":"ann"},
   "mark":{"type":"rule","color":"#000000","strokeWidth":1.8,"yOffset":-11},
   "encoding":{"x":{"datum":72.4},"x2":{"datum":73.7},"y":{"field":"v","type":"quantitative"}}},
  {"data":{"name":"ann"},
   "mark":{"type":"rule","color":"#000000","strokeWidth":1.8,"yOffset":11},
   "encoding":{"x":{"datum":72.4},"x2":{"datum":73.7},"y":{"field":"v","type":"quantitative"}}},
  {"data":{"name":"ann"},
   "mark":{"type":"text","align":"left","baseline":"middle","fontSize":16,"color":"#000000","font":"Liberation Sans"},
   "encoding":{"x":{"datum":74.3},"y":{"field":"v","type":"quantitative"},"text":{"field":"label"}}}
 ]
}
]
}
